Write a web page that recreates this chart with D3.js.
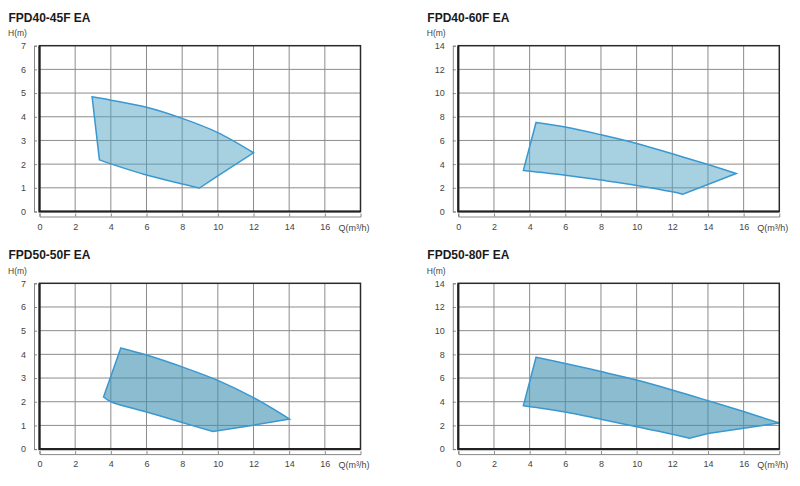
<!DOCTYPE html>
<html><head><meta charset="utf-8">
<script src="https://cdn.jsdelivr.net/npm/d3@7"></script>
<style>
body{margin:0;background:#fff;}
svg{display:block;font-family:"Liberation Sans",Arial,Helvetica,sans-serif;}
</style></head>
<body><svg id="c" width="800" height="486"></svg>
<script>
const panelTitles = ["FPD40-45F EA","FPD40-60F EA","FPD50-50F EA","FPD50-80F EA"];
const hMax = [7,14,7,14];
const hStep = [1,2,1,2];
const qTicks = [0,2,4,6,8,10,12,14,16];
const qMax = 18;
const qLabel = "Q(m³/h)";
const hLabel = "H(m)";

// upper boundary (max head curve), from left to right vertex
const topQ = [
  [2.95,4,6,8,10,12],
  [4.36,6,8,10,12,14,15.58],
  [4.56,6,8,10,12,14.02],
  [4.36,6,8,10,12,14,16,18.0]
];
const topH = [
  [4.84,4.70,4.40,3.93,3.33,2.48],
  [7.52,7.13,6.48,5.75,4.87,3.97,3.21],
  [4.27,3.97,3.47,2.90,2.17,1.27],
  [7.76,7.23,6.55,5.83,4.99,4.09,3.17,2.2]
];
// right lower edge: from right vertex to lowest vertex
const rightQ = [[12,10,8.97],[15.58,12.59],[14.02,12,9.72],[18.0,16,14,12.96]];
const rightH = [[2.48,1.50,0.99],[3.21,1.46],[1.27,1.01,0.74],[2.2,1.76,1.32,0.92]];
// lower boundary (min head curve): from lowest vertex back to left vertex
const lowQ = [
  [8.97,8,6,4,3.36],
  [12.59,12,10,8,6,3.65],
  [9.72,8,6,4,3.59],
  [12.96,12,10,8,6,3.65]
];
const lowH = [
  [0.99,1.16,1.54,2.01,2.18],
  [1.46,1.66,2.20,2.65,3.07,3.47],
  [0.74,1.12,1.57,2.0,2.20],
  [0.92,1.26,1.88,2.52,3.14,3.67]
];

const layout = [
  {left:39.5, top:45.7, fill:"#4fa3c3", op:0.5},
  {left:458.3, top:45.7, fill:"#4fa3c3", op:0.5},
  {left:39.5, top:283.3, fill:"#3f8fb0", op:0.6},
  {left:458.3, top:283.3, fill:"#3f8fb0", op:0.6}
];
const W = 321, H = 165.8;
const svg = d3.select("#c");

layout.forEach((L,i)=>{
  const g = svg.append("g");
  const x = d3.scaleLinear().domain([0,qMax]).range([L.left, L.left+W]);
  const y = d3.scaleLinear().domain([0,hMax[i]]).range([L.top+H, L.top]);
  const hTicks = d3.range(0, hMax[i]+0.001, hStep[i]);

  g.append("text").attr("x", L.left-31).attr("y", L.top-24)
    .attr("font-size", 12).attr("font-weight","bold").attr("fill","#1a1a1a")
    .text(panelTitles[i]);
  g.append("text").attr("x", L.left-31.5).attr("y", L.top-9.5)
    .attr("font-size", 8.5).attr("fill","#444").text(hLabel);

  g.append("g").selectAll("line").data(qTicks.filter(d=>d>0)).join("line")
    .attr("x1",d=>x(d)).attr("x2",d=>x(d)).attr("y1",L.top).attr("y2",L.top+H)
    .attr("stroke","#8c8c8c").attr("stroke-width",1);
  g.append("g").selectAll("line").data(hTicks.filter(d=>d>0 && d<hMax[i])).join("line")
    .attr("x1",L.left).attr("x2",L.left+W).attr("y1",d=>y(d)).attr("y2",d=>y(d))
    .attr("stroke","#8c8c8c").attr("stroke-width",1);

  const curve = d3.line().curve(d3.curveCatmullRom.alpha(0.5));
  const lin = d3.line();
  const toPts = (qs,hs)=>qs.map((q,k)=>[x(q), y(hs[k])]);
  const seg1 = curve(toPts(topQ[i],topH[i]));
  const seg2 = lin(toPts(rightQ[i],rightH[i])).replace(/^M/,"L");
  const seg3 = curve(toPts(lowQ[i],lowH[i])).replace(/^M/,"L");
  g.append("path").attr("d", seg1+seg2+seg3+"Z")
    .attr("fill", L.fill).attr("fill-opacity", L.op)
    .attr("stroke","#3a98d0").attr("stroke-width",1.5).attr("stroke-linejoin","miter");

  g.append("rect").attr("x",L.left).attr("y",L.top).attr("width",W).attr("height",H)
    .attr("fill","none").attr("stroke","#2a2a2a").attr("stroke-width",1.5);
  g.append("path").attr("d",`M${L.left},${L.top} V${L.top+H} H${L.left+W}`)
    .attr("fill","none").attr("stroke","#222").attr("stroke-width",2.2);

  const ax = g.append("g").attr("transform",`translate(${L.left-5.5},0)`)
    .call(d3.axisLeft(y).tickValues(hTicks).tickFormat(d3.format("d"))
      .tickSizeInner(-3).tickSizeOuter(-3).tickPadding(8));
  const bx = g.append("g").attr("transform",`translate(0,${L.top+H+5})`)
    .call(d3.axisBottom(x).tickValues(qTicks).tickFormat(d3.format("d"))
      .tickSizeInner(-3).tickSizeOuter(-3).tickPadding(7));
  [ax,bx].forEach(a=>{
    a.selectAll("path,line").attr("stroke","#7a7a7a").attr("stroke-width",0.9);
    a.selectAll("text").attr("font-size",9).attr("fill","#444")
      .attr("font-family","'Liberation Sans',Arial,sans-serif");
  });
  g.append("text").attr("x", x(qMax)-22).attr("y", L.top+H+19)
    .attr("font-size",9).attr("fill","#444").text(qLabel);
});
</script></body></html>
